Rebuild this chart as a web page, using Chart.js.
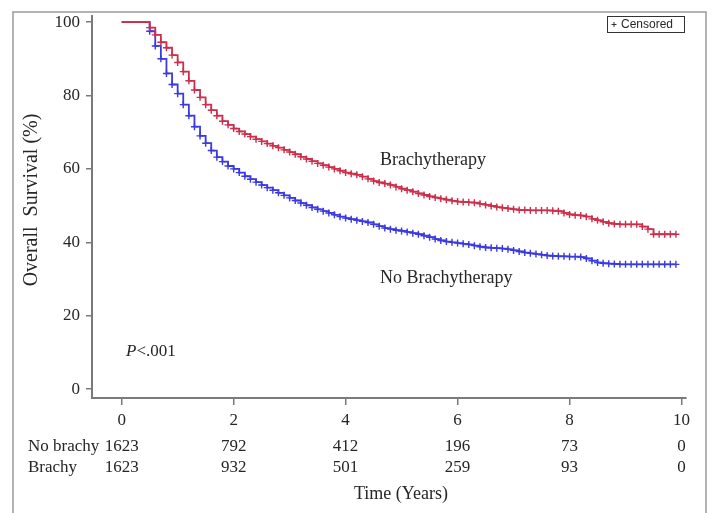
<!DOCTYPE html>
<html>
<head>
<meta charset="utf-8">
<script src="https://cdn.jsdelivr.net/npm/chart.js@4.4.1/dist/chart.umd.min.js"></script>
<style>
    body { margin: 0; background: #fff; }
    canvas { display: block; }
</style>
</head>
<body>
<canvas id="km_chart" width="713" height="513"></canvas>
<script>
// time points (years) where the curves were read
const years = [
    0,
    0.5, 0.6, 0.7, 0.8, 0.9,
    1.0, 1.1, 1.2, 1.3, 1.4, 1.5, 1.6, 1.7, 1.8, 1.9,
    2.0, 2.1, 2.2, 2.3, 2.4, 2.5, 2.6, 2.7, 2.8, 2.9,
    3.0, 3.1, 3.2, 3.3, 3.4, 3.5, 3.6, 3.7, 3.8, 3.9,
    4.0, 4.1, 4.2, 4.3, 4.4, 4.5, 4.6, 4.7, 4.8, 4.9,
    5.0, 5.1, 5.2, 5.3, 5.4, 5.5, 5.6, 5.7, 5.8, 5.9,
    6.0, 6.1, 6.2, 6.3, 6.4, 6.5, 6.6, 6.7, 6.8, 6.9,
    7.0, 7.1, 7.2, 7.3, 7.4, 7.5, 7.6, 7.7, 7.8, 7.9,
    8.0, 8.1, 8.2, 8.3, 8.4, 8.5, 8.6, 8.7, 8.8, 8.9,
    9.0, 9.1, 9.2, 9.3, 9.4, 9.5, 9.6, 9.7, 9.8, 9.9
];

const brachySurvival = [
    100,
    98.5, 96.5, 94.5, 93, 91,
    89, 86.5, 84, 81.5, 79.5, 77.5, 76, 74.5, 73, 72,
    71, 70.2, 69.5, 68.8, 68.1, 67.5, 66.9, 66.3, 65.8, 65.2,
    64.6, 64, 63.3, 62.7, 62.1, 61.5, 61, 60.5, 60, 59.5,
    59, 58.7, 58.4, 57.9, 57.3, 56.7, 56.3, 56, 55.6, 55.1,
    54.6, 54.2, 53.8, 53.3, 52.9, 52.5, 52.2, 51.9, 51.6, 51.3,
    51.1, 51, 50.9, 50.8, 50.5, 50.2, 49.9, 49.6, 49.4, 49.2,
    49, 48.8, 48.8, 48.7, 48.7, 48.7, 48.7, 48.6, 48.5, 48,
    47.6, 47.4, 47.3, 47, 46.4, 46, 45.6, 45.2, 45, 44.9,
    44.9, 44.9, 44.9, 44.3, 43.6, 42.2, 42.2, 42.2, 42.2, 42.2
];

const noBrachySurvival = [
    100,
    97.5, 93.5, 90, 86, 83,
    80.5, 77.5, 74.5, 71.5, 69, 67, 65, 63.2, 62, 60.8,
    60, 59, 58, 57.2, 56.4, 55.6, 54.9, 54.2, 53.5, 52.8,
    52.1, 51.4, 50.7, 50.1, 49.5, 49, 48.5, 48, 47.5, 47,
    46.6, 46.3, 46, 45.7, 45.4, 44.9, 44.4, 43.9, 43.6, 43.3,
    43.1, 42.8, 42.5, 42.2, 41.8, 41.4, 40.9, 40.5, 40.2, 40,
    39.8, 39.6, 39.4, 39.1, 38.8, 38.6, 38.5, 38.4, 38.3, 38.1,
    37.8, 37.5, 37.2, 37, 36.8, 36.6, 36.4, 36.3, 36.2, 36.2,
    36.1, 36.1, 36, 35.6, 35, 34.5, 34.3, 34.2, 34.1, 34,
    34, 34, 34, 34, 34, 34, 34, 34, 34, 34
];

const xTicks = [0, 2, 4, 6, 8, 10];
const yTicks = [0, 20, 40, 60, 80, 100];

// number at risk table
const riskTimes = [0, 2, 4, 6, 8, 10];
const noBrachyRisk = [1623, 792, 412, 196, 73, 0];
const brachyRisk = [1623, 932, 501, 259, 93, 0];

const SERIF = "'Liberation Serif', 'Times New Roman', serif";
const TEXT_COLOR = "#262626";
const AXIS_COLOR = "#7a7a7a";

function toPoints(values) {
    return years.map((t, i) => ({ x: t, y: values[i] }));
}

function censorRadius(ctx) {
    return years[ctx.dataIndex] < 0.45 ? 0 : 3.5;
}

// frame, annotations, risk table, legend box
const extrasPlugin = {
    id: "kmExtras",
    beforeDraw(chart) {
        let ctx = chart.ctx;
        ctx.save();
        ctx.fillStyle = "#fff";
        ctx.fillRect(0, 0, chart.width, chart.height);
        ctx.strokeStyle = "#9a9a9a";
        ctx.lineWidth = 1.5;
        ctx.beginPath();
        ctx.moveTo(13, 513);
        ctx.lineTo(13, 12);
        ctx.lineTo(706, 12);
        ctx.lineTo(706, 513);
        ctx.stroke();
        ctx.restore();
    },
    afterDraw(chart) {
        let ctx = chart.ctx;
        let xScale = chart.scales.x;
        ctx.save();
        ctx.fillStyle = TEXT_COLOR;

        // y axis title
        ctx.save();
        ctx.translate(32, 200);
        ctx.rotate(-Math.PI / 2);
        ctx.font = "20px " + SERIF;
        ctx.textAlign = "center";
        ctx.textBaseline = "middle";
        ctx.fillText("Overall  Survival (%)", 0, 0);
        ctx.restore();

        // curve labels
        ctx.font = "18px " + SERIF;
        ctx.textAlign = "left";
        ctx.textBaseline = "alphabetic";
        ctx.fillText("Brachytherapy", 380, 165);
        ctx.fillText("No Brachytherapy", 380, 283);

        // p value
        ctx.font = "italic 17px " + SERIF;
        ctx.fillText("P", 126, 356);
        let pw = ctx.measureText("P").width;
        ctx.font = "17px " + SERIF;
        ctx.fillText("<.001", 126 + pw, 356);

        // number at risk
        ctx.font = "17px " + SERIF;
        ctx.textBaseline = "middle";
        ctx.textAlign = "left";
        ctx.fillText("No brachy", 28, 447);
        ctx.fillText("Brachy", 28, 468);
        ctx.textAlign = "center";
        riskTimes.forEach((t, i) => {
            let px = xScale.getPixelForValue(t);
            ctx.fillText(String(noBrachyRisk[i]), px, 447);
            ctx.fillText(String(brachyRisk[i]), px, 468);
        });

        // x axis title
        ctx.font = "18px " + SERIF;
        ctx.fillText("Time (Years)", 401, 494);

        // censored legend
        ctx.strokeStyle = "#333";
        ctx.lineWidth = 1;
        ctx.strokeRect(607.5, 16.5, 77, 16);
        ctx.beginPath();
        ctx.moveTo(611.5, 24.5);
        ctx.lineTo(616.5, 24.5);
        ctx.moveTo(614, 22);
        ctx.lineTo(614, 27);
        ctx.stroke();
        ctx.font = "12px 'Liberation Sans', Arial, sans-serif";
        ctx.textAlign = "left";
        ctx.textBaseline = "middle";
        ctx.fillText("Censored", 621, 25);
        ctx.restore();
    }
};

function buildChart() {
    let canvas = document.getElementById("km_chart");
    let ctx = canvas.getContext("2d");

    new Chart(ctx, {
        type: "scatter",
        data: {
            datasets: [
                {
                    label: "Brachytherapy",
                    data: toPoints(brachySurvival),
                    showLine: true,
                    stepped: "before",
                    borderColor: "#cc2f4c",
                    borderWidth: 1.8,
                    pointStyle: "cross",
                    pointRadius: censorRadius,
                    pointBorderColor: "#cc2f4c",
                    pointBorderWidth: 1.4
                },
                {
                    label: "No Brachytherapy",
                    data: toPoints(noBrachySurvival),
                    showLine: true,
                    stepped: "before",
                    borderColor: "#3a3ae0",
                    borderWidth: 1.8,
                    pointStyle: "cross",
                    pointRadius: censorRadius,
                    pointBorderColor: "#3a3ae0",
                    pointBorderWidth: 1.4
                }
            ]
        },
        options: {
            responsive: false,
            animation: false,
            layout: { padding: { top: 13, right: 27, left: 0, bottom: 0 } },
            plugins: {
                legend: { display: false },
                tooltip: { enabled: false }
            },
            scales: {
                x: {
                    type: "linear",
                    min: -0.53,
                    max: 10.08,
                    afterBuildTicks: s => { s.ticks = xTicks.map(v => ({ value: v })); },
                    afterFit: s => { s.height = 115; },
                    border: { display: true, color: AXIS_COLOR, width: 2 },
                    grid: { drawOnChartArea: false, drawTicks: true, tickLength: 7, color: AXIS_COLOR, lineWidth: 1.5 },
                    ticks: { font: { family: SERIF, size: 17 }, color: TEXT_COLOR, padding: 5, maxRotation: 0 }
                },
                y: {
                    min: -2.4,
                    max: 101.6,
                    afterBuildTicks: s => { s.ticks = yTicks.map(v => ({ value: v })); },
                    afterFit: s => { s.width = 92; },
                    border: { display: true, color: AXIS_COLOR, width: 2 },
                    grid: { drawOnChartArea: false, drawTicks: true, tickLength: 6, color: AXIS_COLOR, lineWidth: 1.5 },
                    ticks: { font: { family: SERIF, size: 17 }, color: TEXT_COLOR, padding: 6 }
                }
            }
        },
        plugins: [extrasPlugin]
    });
}

buildChart();
</script>
</body>
</html>
